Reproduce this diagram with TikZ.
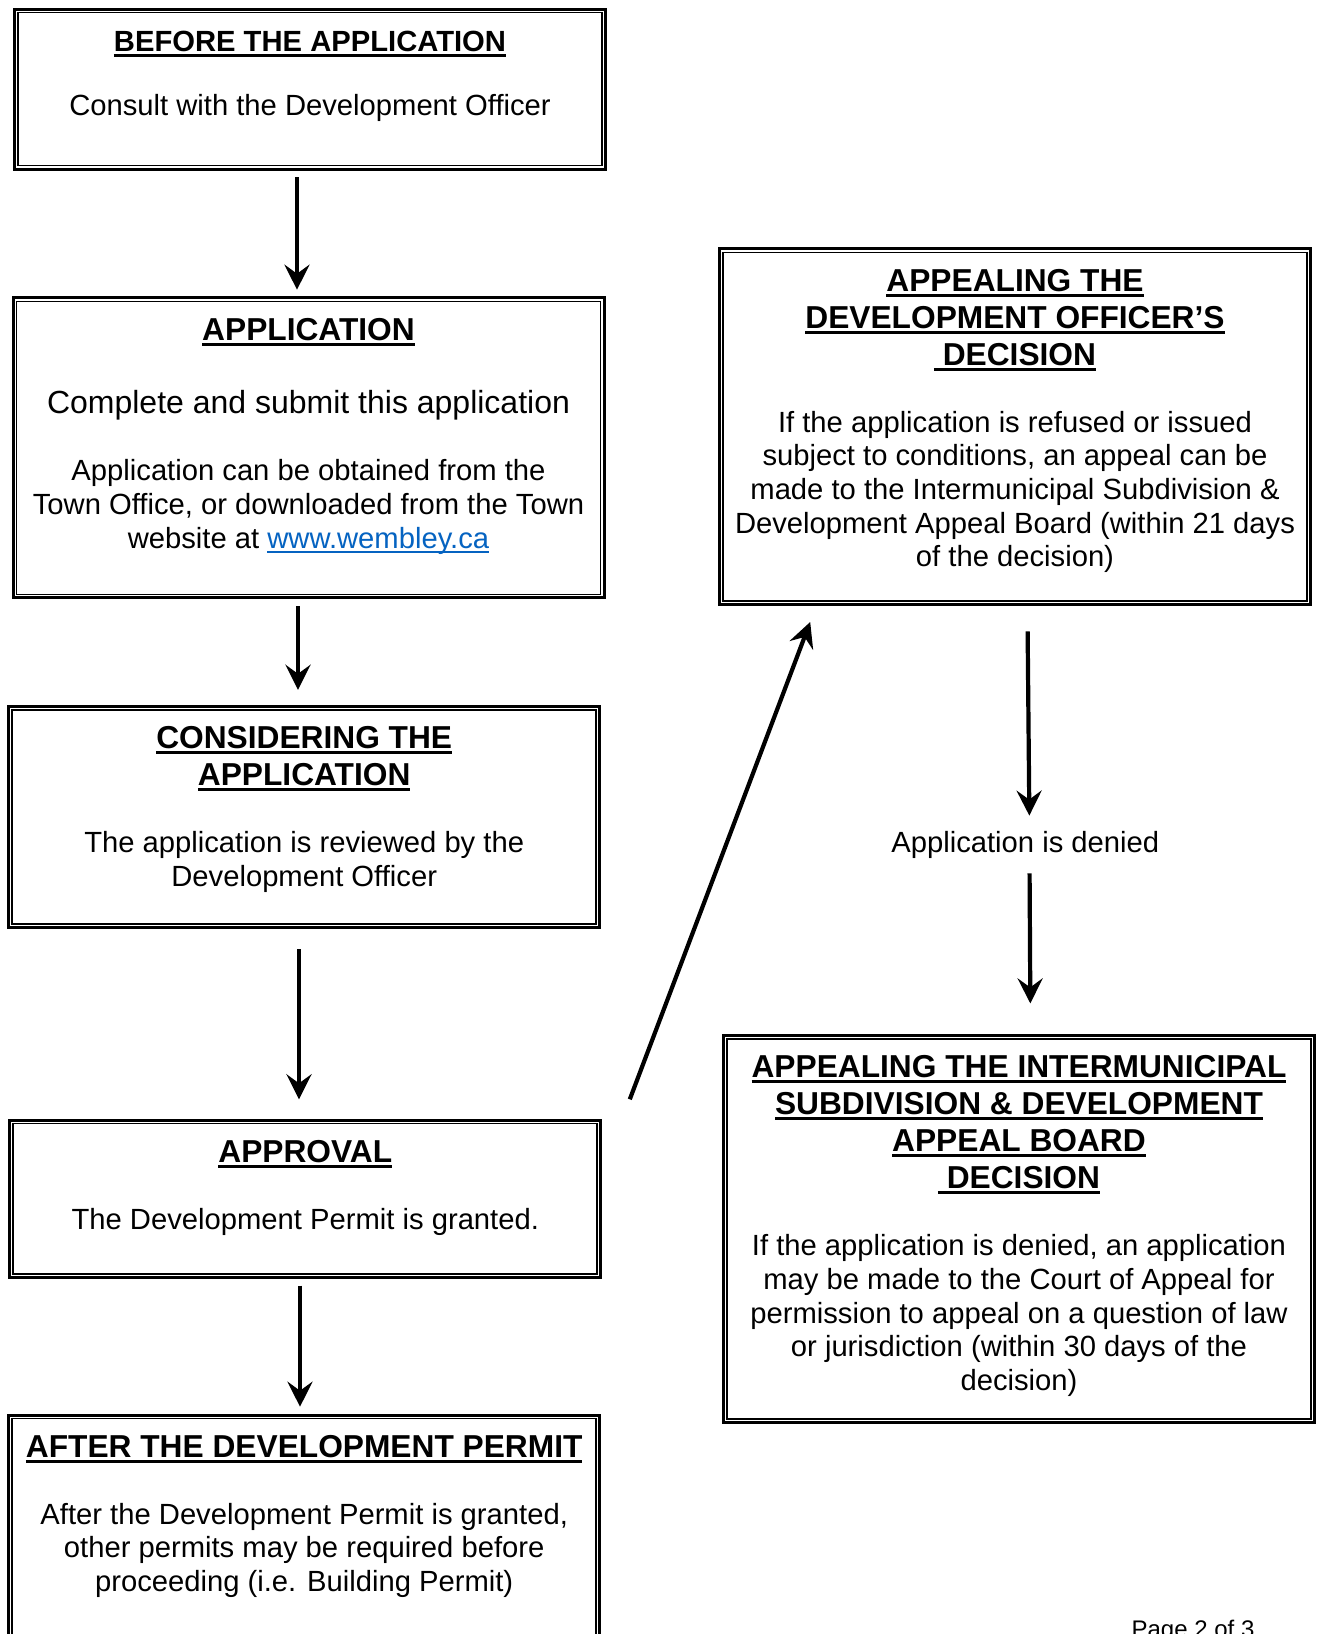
\documentclass[tikz,border=0pt]{standalone}
\usepackage{fontspec}
\setmainfont{Liberation Sans}
\usetikzlibrary{arrows.meta}
\pgfdeclarelayer{edgelayer}
\pgfdeclarelayer{nodelayer}
\pgfsetlayers{edgelayer,nodelayer,main}
\definecolor{linkblue}{HTML}{0563C1}
\newcommand{\bodyfont}{\fontsize{29.2pt}{33.6pt}\selectfont}
\newcommand{\titlefont}{\fontsize{31.7pt}{37pt}\selectfont\bfseries}
\newcommand{\ulbar}[1]{\leavevmode\setbox0=\hbox{#1}\rlap{\rule[-5.3pt]{\wd0}{2.8pt}}\box0}
\newcommand{\weblink}[1]{\leavevmode\setbox0=\hbox{\color{linkblue}#1}\rlap{\color{linkblue}\rule[-4.6pt]{\wd0}{1.6pt}}\box0}
\tikzset{stage/.style={draw, line width=3pt, inner xsep=2pt, inner ysep=0pt, anchor=north,
    execute at begin node={\begin{minipage}[t][#1][t]{587pt}\centering\bodyfont\rule{0pt}{42.3pt}},
    execute at end node={\end{minipage}}}}
\tikzstyle{frame}=[draw=black, line width=1.8pt]
\tikzstyle{flow}=[-{Stealth[length=25pt, width=25pt, inset=9pt]}, draw=black, line width=4.2pt]
\tikzstyle{note}=[inner sep=0pt, text height=21pt, text depth=6pt, font=\bodyfont]

\begin{document}
\begin{tikzpicture}[x=1pt, y=-1pt]
            \useasboundingbox (0, 0) rectangle (1317, 1634);
            \begin{pgfonlayer}{nodelayer}
                \node [stage=160pt] (before) at (310, 7.5) {{\bfseries\ulbar{BEFORE THE APPLICATION}\par}\vspace{31pt}
                    Consult with the Development Officer};
                \node [stage=300pt] (application) at (308.5, 296.4) {{\titlefont\ulbar{APPLICATION}\par}\vspace{36.5pt}
                    {\fontsize{32pt}{36.8pt}\selectfont Complete and submit this application\par}\vspace{33.7pt}
                    Application can be obtained from the\par
                    Town Office, or downloaded from the Town\par
                    website at \weblink{www.wembley.ca}};
                \node [stage=221pt] (considering) at (304.2, 704.9) {{\titlefont\ulbar{CONSIDERING THE}\par\ulbar{APPLICATION}\par}\vspace{33.4pt}
                    The application is reviewed by the\par
                    Development Officer};
                \node [stage=157.5pt] (approval) at (305.3, 1118.5) {{\titlefont\ulbar{APPROVAL}\par}\vspace{33.4pt}
                    The Development Permit is granted.};
                \node [stage=260pt] (after) at (304.2, 1413.5) {{\titlefont\ulbar{AFTER THE DEVELOPMENT PERMIT}\par}\vspace{33.4pt}
                    After the Development Permit is granted,\par
                    other permits may be required before\par
                    proceeding (i.e. Building Permit)};

                \node [stage=355.5pt] (appealdo) at (1015, 247.4) {{\titlefont\ulbar{APPEALING THE}\par\ulbar{DEVELOPMENT OFFICER’S}\par\ulbar{\ DECISION}\par}\vspace{33.4pt}
                    If the application is refused or issued\par
                    subject to conditions, an appeal can be\par
                    made to the Intermunicipal Subdivision \&\par
                    Development Appeal Board (within 21 days\par
                    of the decision)};
                \node [style=note] (denied) at (1025.3, 852.4) [anchor=base] {Application is denied};
                \node [stage=386.7pt] (appealsdab) at (1019, 1034.1) {{\titlefont\ulbar{APPEALING THE INTERMUNICIPAL}\par\ulbar{SUBDIVISION \& DEVELOPMENT}\par\ulbar{APPEAL BOARD}\par\ulbar{\ DECISION}\par}\vspace{33.4pt}
                    If the application is denied, an application\par
                    may be made to the Court of Appeal for\par
                    permission to appeal on a question of law\par
                    or jurisdiction (within 30 days of the\par
                    decision)};

                \node [anchor=base, font=\fontsize{24pt}{28pt}\selectfont] (page) at (1193, 1637) {Page 2 of 3};

                \foreach \n in {before,application,considering,approval,after,appealdo,appealsdab}
                    \draw [style=frame] ([shift={(5,5)}]\n.north west) rectangle ([shift={(-5,-5)}]\n.south east);
            \end{pgfonlayer}
            \begin{pgfonlayer}{edgelayer}
                \draw [style=flow, shorten <=6.5pt, shorten >=6.7pt] ([xshift=-13]before.south) to ([xshift=-11.5]application.north);
                \draw [style=flow, shorten <=6.7pt, shorten >=15.1pt] ([xshift=-10.5]application.south) to ([xshift=-6.2]considering.north);
                \draw [style=flow, shorten <=20.1pt, shorten >=19.2pt] ([xshift=-5.2]considering.south) to ([xshift=-6.3]approval.north);
                \draw [style=flow, shorten <=6.7pt, shorten >=6.8pt] ([xshift=-5.3]approval.south) to ([xshift=-4.2]after.north);

                \draw [style=flow] ([shift={(27.5,-19.2)}]approval.north east) to ([shift={(92.2,16.1)}]appealdo.south west);
                \draw [style=flow, shorten <=25.4pt, shorten >=15.6pt] ([xshift=12.4]appealdo.south) to ([xshift=4.2]denied.north);
                \draw [style=flow, shorten <=14.7pt, shorten >=30.7pt] ([xshift=4.2]denied.south) to ([xshift=11.5]appealsdab.north);
            \end{pgfonlayer}
        \end{tikzpicture}
\end{document}
